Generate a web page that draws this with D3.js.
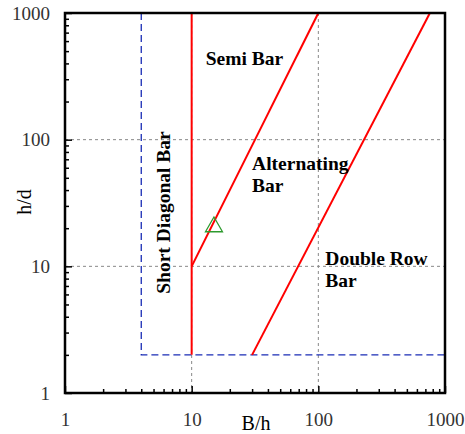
<!DOCTYPE html>
<html>
<head>
<meta charset="utf-8">
<script src="https://cdn.jsdelivr.net/npm/d3@7"></script>
<style>
  body { margin: 0; background: #fff; }
</style>
</head>
<body>
<div id="chart"></div>
<script>
var svgWidth = 465;
var svgHeight = 434;

var margin = { top: 13, right: 20, bottom: 41, left: 65 };

var width = svgWidth - margin.left - margin.right;
var height = svgHeight - margin.top - margin.bottom;

var serif = "'Liberation Serif', 'Times New Roman', serif";

// data (B/h, h/d)
var decades = [1, 10, 100, 1000];
var gridValues = [10, 100];
var boundVertical = [[10, 2], [10, 1000]];
var boundAlternating = [[10, 10], [100, 1000]];
var boundDoubleRow = [[30, 2], [760, 1000]];
var dashedBox = [[4, 1000], [4, 2], [1000, 2]];
var observed = [[15, 20.5]];

var regionLabels = [
    { lines: ["Semi Bar"], x: 12.9, y: 388 },
    { lines: ["Alternating", "Bar"], x: 30, y: 57.5 },
    { lines: ["Double Row", "Bar"], x: 113.5, y: 10.2 }
];
var verticalLabel = { text: "Short Diagonal Bar", x: 6.7, y: 26.6 };

var minorTicks = [];
decades.slice(0, 3).forEach(d => {
    for (var i = 2; i <= 9; i++) minorTicks.push(d * i);
});

var svg = d3.select("#chart")
    .append("svg")
    .attr("width", svgWidth)
    .attr("height", svgHeight);

var chartGroup = svg.append("g")
    .attr("transform", `translate(${margin.left}, ${margin.top})`);

var x = d3.scaleLog().domain([1, 1000]).range([0, width]);
var y = d3.scaleLog().domain([1, 1000]).range([height, 0]);

// grid
chartGroup.selectAll(".vgrid")
    .data(gridValues)
    .enter()
    .append("line")
    .attr("x1", d => x(d)).attr("x2", d => x(d))
    .attr("y1", 0).attr("y2", height)
    .attr("stroke", "#888")
    .attr("stroke-width", 1)
    .attr("stroke-dasharray", "3,3");

chartGroup.selectAll(".hgrid")
    .data(gridValues)
    .enter()
    .append("line")
    .attr("x1", 0).attr("x2", width)
    .attr("y1", d => y(d)).attr("y2", d => y(d))
    .attr("stroke", "#888")
    .attr("stroke-width", 1)
    .attr("stroke-dasharray", "3,3");

var line = d3.line().x(d => x(d[0])).y(d => y(d[1]));

chartGroup.append("path")
    .datum(dashedBox)
    .attr("d", line)
    .attr("fill", "none")
    .attr("stroke", "#1a2db5")
    .attr("stroke-width", 1.3)
    .attr("stroke-dasharray", "7,4");

[boundVertical, boundAlternating, boundDoubleRow].forEach(b => {
    chartGroup.append("path")
        .datum(b)
        .attr("d", line)
        .attr("fill", "none")
        .attr("stroke", "#ff0000")
        .attr("stroke-width", 2);
});

chartGroup.selectAll(".obs")
    .data(observed)
    .enter()
    .append("path")
    .attr("d", d3.symbol().type(d3.symbolTriangle).size(125))
    .attr("transform", d => `translate(${x(d[0])}, ${y(d[1])})`)
    .attr("fill", "none")
    .attr("stroke", "#2e9a2e")
    .attr("stroke-width", 1.3);

// axes
var fmt = d => d3.format("d")(d);

function styleAxis(g) {
    g.attr("font-family", serif);
    g.select(".domain").remove();
    g.selectAll("line").attr("stroke", "#000").attr("stroke-width", 1.5);
    g.selectAll("text")
        .style("font-family", serif)
        .attr("font-size", "19px")
        .attr("fill", "#333");
}

chartGroup.append("g")
    .call(d3.axisLeft(y).tickValues(minorTicks).tickSize(-4).tickFormat(""))
    .call(styleAxis);
chartGroup.append("g")
    .call(d3.axisLeft(y).tickValues(decades).tickSize(-7).tickPadding(15).tickFormat(fmt))
    .call(styleAxis);

chartGroup.append("g")
    .attr("transform", `translate(0, ${height})`)
    .call(d3.axisBottom(x).tickValues(minorTicks).tickSize(-4).tickFormat(""))
    .call(styleAxis);
chartGroup.append("g")
    .attr("transform", `translate(0, ${height})`)
    .call(d3.axisBottom(x).tickValues(decades).tickSize(-7).tickPadding(20).tickFormat(fmt))
    .call(styleAxis);

// frame
chartGroup.append("rect")
    .attr("x", 0).attr("y", 0)
    .attr("width", width).attr("height", height)
    .attr("fill", "none")
    .attr("stroke", "#000")
    .attr("stroke-width", 2.5);

// region labels
regionLabels.forEach(l => {
    var t = chartGroup.append("text")
        .attr("x", x(l.x))
        .attr("y", y(l.y))
        .style("font-family", serif)
        .attr("font-size", "19.5px")
        .attr("font-weight", "bold")
        .attr("fill", "#000");
    l.lines.forEach((s, i) => {
        t.append("tspan")
            .attr("x", x(l.x))
            .attr("dy", i === 0 ? 0 : 22)
            .text(s);
    });
});

chartGroup.append("text")
    .attr("transform", `translate(${x(verticalLabel.x)}, ${y(verticalLabel.y)}) rotate(-90)`)
    .attr("text-anchor", "middle")
    .style("font-family", serif)
    .attr("font-size", "19.5px")
    .attr("font-weight", "bold")
    .attr("fill", "#000")
    .text(verticalLabel.text);

// axis titles
svg.append("text")
    .attr("transform", "translate(31, 202) rotate(-90)")
    .attr("text-anchor", "middle")
    .style("font-family", serif)
    .attr("font-size", "20px")
    .attr("fill", "#000")
    .text("h/d");

svg.append("text")
    .attr("x", 256)
    .attr("y", 430)
    .attr("text-anchor", "middle")
    .style("font-family", serif)
    .attr("font-size", "20px")
    .attr("fill", "#000")
    .text("B/h");
</script>
</body>
</html>
